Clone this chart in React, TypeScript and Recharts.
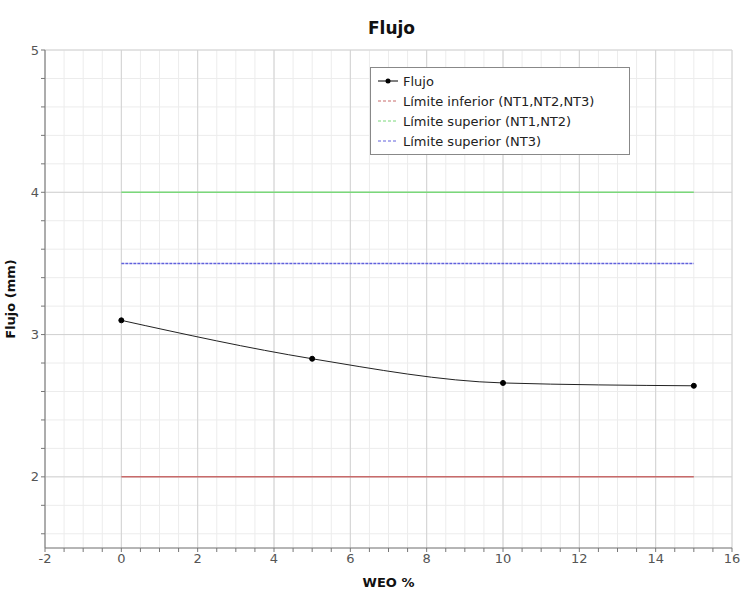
import { ComposedChart, Line, XAxis, YAxis, CartesianGrid, ReferenceLine, Label } from 'recharts'

const WEO = [0, 5, 10, 15]
const FLUJO = [3.1, 2.83, 2.66, 2.64]

const LIMIT_X = [0, 15]
const LIM_INF = [2, 2]
const LIM_SUP_12 = [4, 4]
const LIM_SUP_3 = [3.5, 3.5]

const X_TICKS = [-2, -1.5, -1, -0.5, 0, 0.5, 1, 1.5, 2, 2.5, 3, 3.5, 4, 4.5, 5, 5.5, 6, 6.5, 7, 7.5, 8, 8.5, 9, 9.5, 10, 10.5, 11, 11.5, 12, 12.5, 13, 13.5, 14, 14.5, 15, 15.5, 16]
const X_MAJOR = [-2, 0, 2, 4, 6, 8, 10, 12, 14, 16]
const Y_TICKS = [1.6, 1.8, 2, 2.2, 2.4, 2.6, 2.8, 3, 3.2, 3.4, 3.6, 3.8, 4, 4.2, 4.4, 4.6, 4.8, 5]
const Y_MAJOR = [2, 3, 4, 5]

const flujoData = WEO.map((x, i) => ({ x, y: FLUJO[i] }))
const infData = LIMIT_X.map((x, i) => ({ x, y: LIM_INF[i] }))
const sup12Data = LIMIT_X.map((x, i) => ({ x, y: LIM_SUP_12[i] }))
const sup3Data = LIMIT_X.map((x, i) => ({ x, y: LIM_SUP_3[i] }))

const FONT = '"DejaVu Sans", Verdana, sans-serif'

const RED = '#c86a6a'
const GREEN = '#7ad87a'
const BLUE = '#6060dc'

const LEGEND = [
  { name: 'Flujo', color: '#000000', dot: true, dash: undefined },
  { name: 'Límite inferior (NT1,NT2,NT3)', color: RED, dot: false, dash: '3 2' },
  { name: 'Límite superior (NT1,NT2)', color: GREEN, dot: false, dash: '3 2' },
  { name: 'Límite superior (NT3)', color: BLUE, dot: false, dash: '3 2' },
]

function LegendBox() {
  return (
    <div
      style={{
        position: 'absolute',
        left: 370,
        top: 67,
        width: 260,
        padding: '3px 6px',
        border: '1px solid #888',
        background: '#fff',
        fontFamily: FONT,
        fontSize: 13,
        color: '#222',
        boxSizing: 'border-box',
      }}
    >
      {LEGEND.map((l) => (
        <div key={l.name} style={{ display: 'flex', alignItems: 'center', height: 20 }}>
          <svg width={22} height={10} style={{ marginRight: 4 }}>
            <line x1={1} y1={5} x2={21} y2={5} stroke={l.color} strokeWidth={1} strokeDasharray={l.dash} />
            {l.dot && <circle cx={11} cy={5} r={2.5} fill={l.color} />}
          </svg>
          <span>{l.name}</span>
        </div>
      ))}
    </div>
  )
}

export default function App() {
  return (
    <div style={{ position: 'absolute', left: 0, top: 0, width: 741, height: 591, background: '#fff' }}>
      <div
        style={{
          position: 'absolute',
          left: 0,
          top: 18,
          width: 741,
          textAlign: 'center',
          fontFamily: FONT,
          fontWeight: 'bold',
          fontSize: 17,
          color: '#111',
        }}
      >
        <span style={{ position: 'relative', left: 21 }}>Flujo</span>
      </div>
      <ComposedChart width={741} height={591} margin={{ top: 50, right: 9, bottom: 0, left: 0 }}>
        <CartesianGrid stroke="#ececec" strokeWidth={1} />
        {X_MAJOR.map((v) => (
          <ReferenceLine key={'vx' + v} x={v} stroke="#d2d2d2" strokeWidth={1} />
        ))}
        {Y_MAJOR.map((v) => (
          <ReferenceLine key={'hy' + v} y={v} stroke="#d2d2d2" strokeWidth={1} />
        ))}
        <XAxis
          type="number"
          dataKey="x"
          domain={[-2, 16]}
          ticks={X_TICKS}
          allowDataOverflow
          height={43}
          stroke="#777"
          tickSize={4}
          tick={{ fontFamily: FONT, fontSize: 13, fill: '#555' }}
          tickFormatter={(v: number) => (X_MAJOR.includes(v) ? String(v) : '')}
          interval={0}
        >
          <Label value="WEO %" position="insideBottom" offset={4} style={{ fontFamily: FONT, fontWeight: 'bold', fontSize: 13, fill: '#111' }} />
        </XAxis>
        <YAxis
          type="number"
          domain={[1.5, 5]}
          ticks={Y_TICKS}
          allowDataOverflow
          width={45}
          stroke="#777"
          tickSize={4}
          tick={{ fontFamily: FONT, fontSize: 13, fill: '#555' }}
          tickFormatter={(v: number) => (Y_MAJOR.includes(v) ? String(v) : '')}
          interval={0}
        >
          <Label value="Flujo (mm)" angle={-90} position="insideLeft" offset={10} style={{ fontFamily: FONT, fontWeight: 'bold', fontSize: 13, fill: '#111', textAnchor: 'middle' }} />
        </YAxis>
        <Line data={infData} dataKey="y" stroke={RED} strokeWidth={1.5} dot={false} isAnimationActive={false} />
        <Line data={sup12Data} dataKey="y" stroke={GREEN} strokeWidth={1.5} dot={false} isAnimationActive={false} />
        <Line data={sup3Data} dataKey="y" stroke={BLUE} strokeWidth={1.5} strokeDasharray="3 1" dot={false} isAnimationActive={false} />
        <Line
          data={flujoData}
          dataKey="y"
          type="monotone"
          stroke="#222"
          strokeWidth={1}
          dot={{ r: 2.5, fill: '#000', stroke: '#000' }}
          isAnimationActive={false}
        />
      </ComposedChart>
      <LegendBox />
    </div>
  )
}
